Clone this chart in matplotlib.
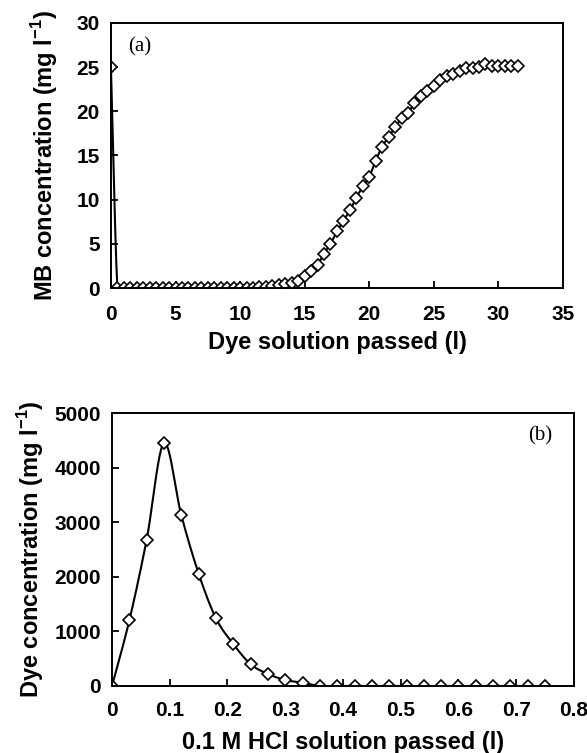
import numpy as np
import matplotlib
matplotlib.use('Agg')
import matplotlib.pyplot as plt

plt.rcParams['font.family'] = 'Liberation Sans'
plt.rcParams['font.weight'] = 'bold'
plt.rcParams['mathtext.fontset'] = 'custom'
plt.rcParams['mathtext.rm'] = 'Liberation Sans:bold'
plt.rcParams['mathtext.bf'] = 'Liberation Sans:bold'

# (a) breakthrough curve: volume passed (l) vs MB outlet concentration (mg/l)
vol_a = [0.0, 0.5, 1.0, 1.5, 2.0, 2.5, 3.0, 3.5, 4.0, 4.5, 5.0, 5.5, 6.0, 6.5,
         7.0, 7.5, 8.0, 8.5, 9.0, 9.5, 10.0, 10.5, 11.0, 11.5, 12.0, 12.5,
         13.0, 13.5, 14.0, 14.5, 15.0, 15.5, 16.0, 16.5, 17.0, 17.5, 18.0,
         18.5, 19.0, 19.5, 20.0, 20.5, 21.0, 21.5, 22.0, 22.5, 23.0, 23.5,
         24.0, 24.5, 25.0, 25.5, 26.0, 26.5, 27.0, 27.5, 28.0, 28.5, 29.0,
         29.5, 30.0, 30.5, 31.0, 31.5]
conc_a = [25.0, 0.05, 0.05, 0.05, 0.05, 0.05, 0.05, 0.05, 0.05, 0.05, 0.05,
          0.05, 0.05, 0.05, 0.05, 0.05, 0.05, 0.05, 0.05, 0.05, 0.05, 0.05,
          0.05, 0.1, 0.15, 0.2, 0.3, 0.4, 0.6, 0.8, 1.35, 1.95, 2.6, 3.9,
          5.0, 6.4, 7.6, 8.8, 10.2, 11.5, 12.6, 14.4, 16.0, 17.1, 18.2, 19.2,
          19.8, 20.9, 21.7, 22.3, 22.9, 23.5, 24.0, 24.2, 24.6, 24.9, 24.9,
          25.0, 25.4, 25.15, 25.15, 25.15, 25.15, 25.15]

# (b) elution with 0.1 M HCl
vol_b = [0.0, 0.03, 0.06, 0.09, 0.12, 0.15, 0.18, 0.21, 0.24, 0.27, 0.30,
         0.33, 0.36, 0.39, 0.42, 0.45, 0.48, 0.51, 0.54, 0.57, 0.60, 0.63,
         0.66, 0.69, 0.72, 0.75]
conc_b = [0, 1200, 2680, 4450, 3130, 2060, 1240, 770, 400, 220, 110, 60,
          0, 0, 0, 0, 0, 0, 0, 0, 0, 0, 0, 0, 0, 0]


def smooth(x, y, n=12):
    # Catmull-Rom spline through the points, like a spreadsheet "smoothed line"
    x = np.asarray(x, float)
    y = np.asarray(y, float)
    px = np.concatenate(([2 * x[0] - x[1]], x, [2 * x[-1] - x[-2]]))
    py = np.concatenate(([2 * y[0] - y[1]], y, [2 * y[-1] - y[-2]]))
    t = np.linspace(0, 1, n, endpoint=False)[:, None]
    xs, ys = [], []
    for i in range(1, len(px) - 2):
        for p, out in ((px, xs), (py, ys)):
            p0, p1, p2, p3 = p[i - 1], p[i], p[i + 1], p[i + 2]
            seg = 0.5 * (2 * p1 + (-p0 + p2) * t + (2 * p0 - 5 * p1 + 4 * p2 - p3) * t ** 2
                         + (-p0 + 3 * p1 - 3 * p2 + p3) * t ** 3)
            out.append(seg.ravel())
    xs.append([x[-1]])
    ys.append([y[-1]])
    return np.concatenate(xs), np.concatenate(ys)


def style(ax):
    for s in ax.spines.values():
        s.set_linewidth(1.4)
    ax.tick_params(direction='in', length=5, width=1.3, top=False, right=False,
                   labelsize=15)
    for lab in ax.get_xticklabels() + ax.get_yticklabels():
        lab.set_fontweight('bold')


fig = plt.figure(figsize=(5.87, 7.53), dpi=100)

ax1 = fig.add_axes([0.189, 0.6175, 0.770, 0.352])
sx, sy = smooth(vol_a, conc_a, 6)
ax1.plot(sx, sy, color='black', lw=1.5)
ax1.plot(vol_a, conc_a, ls='none', marker='D', ms=5.8, mfc='white', mec='black', mew=1.2)
ax1.set_xlim(0, 35)
ax1.set_ylim(0, 30)
ax1.set_xticks(np.arange(0, 36, 5))
ax1.set_yticks(np.arange(0, 31, 5))
style(ax1)
ax1.tick_params(axis='x', pad=12)
ax1.tick_params(axis='y', pad=8)
ax1.set_xlabel('Dye solution passed (l)', fontsize=17, fontweight='bold')
ax1.xaxis.set_label_coords(0.5, -0.162)
ax1.set_ylabel(r'MB concentration (mg l$^{\mathbf{-1}}$)', fontsize=17, fontweight='bold', labelpad=12)
ax1.text(0.038, 0.91, '(a)', transform=ax1.transAxes, family='Liberation Serif',
         fontweight='normal', fontsize=15, va='center', ha='left')

ax2 = fig.add_axes([0.1908, 0.089, 0.787, 0.3625])
sx, sy = smooth(vol_b, conc_b, 12)
ax2.plot(sx, sy, color='black', lw=1.5)
ax2.plot(vol_b, conc_b, ls='none', marker='D', ms=5.8, mfc='white', mec='black', mew=1.2)
ax2.set_xlim(0, 0.8)
ax2.set_ylim(0, 5000)
ax2.set_xticks(np.arange(0, 0.81, 0.1))
ax2.set_xticklabels(['0', '0.1', '0.2', '0.3', '0.4', '0.5', '0.6', '0.7', '0.8'])
ax2.set_yticks(np.arange(0, 5001, 1000))
style(ax2)
ax2.tick_params(axis='x', pad=11)
ax2.tick_params(axis='y', pad=8)
ax2.set_xlabel('0.1 M HCl solution passed (l)', fontsize=17, fontweight='bold', labelpad=8)
ax2.set_ylabel(r'Dye concentration (mg l$^{\mathbf{-1}}$)', fontsize=17, fontweight='bold', labelpad=6)
ax2.text(0.90, 0.916, '(b)', transform=ax2.transAxes, family='Liberation Serif',
         fontweight='normal', fontsize=15, va='center', ha='left')

fig.savefig('out.png', dpi=100)
